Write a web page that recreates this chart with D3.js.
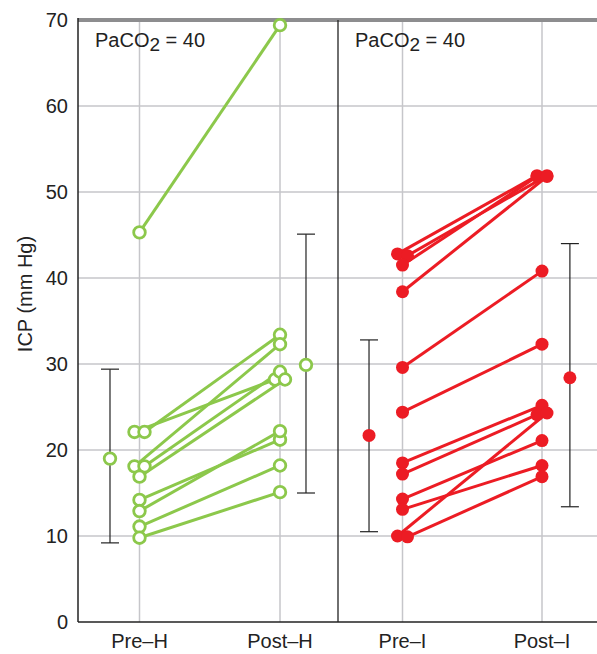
<!DOCTYPE html>
<html><head><meta charset="utf-8">
<script src="https://cdn.jsdelivr.net/npm/d3@7"></script>
<style>html,body{margin:0;padding:0;background:#fff}svg{display:block}text{font-family:"Liberation Sans",Arial,Helvetica,sans-serif}</style>
</head><body>
<svg id="c" width="597" height="654"></svg>
<script>
// ---- data ----
const categories = ["Pre–H", "Post–H", "Pre–I", "Post–I"];
const panelLabels = ["PaCO", "PaCO"];
const yTicks = [0, 10, 20, 30, 40, 50, 60, 70];
const hypoPre  = [45.3, 22.1, 22.1, 18.1, 18.1, 16.9, 14.2, 12.9, 11.1, 9.8];
const hypoPost = [69.4, 28.2, 33.4, 32.3, 29.1, 28.2, 21.2, 22.2, 18.2, 15.1];
const irriPre  = [42.8, 42.6, 41.5, 38.4, 29.6, 24.4, 18.5, 17.2, 14.3, 13.1, 10.0, 9.9];
const irriPost = [51.9, 51.9, 51.8, 51.8, 40.8, 32.3, 25.2, 24.1, 21.1, 18.2, 24.3, 16.9];
const meanPre   = [19.0, 21.7];
const lowPre    = [9.2, 10.5];
const highPre   = [29.4, 32.8];
const meanPost  = [29.9, 28.4];
const lowPost   = [15.0, 13.4];
const highPost  = [45.1, 44.0];

// ---- layout ----
const svg = d3.select("#c");
const L = 78, R = 597, T = 20, B = 622, DIV = 338;
const FS = 20;
const y = d3.scaleLinear().domain([0, 70]).range([B, T]);
const panels = [
  {x: d3.scaleLinear().domain([0, 1]).range([139.5, 280]), pre: hypoPre, post: hypoPost, color: "#8cc84b", filled: false, cats: categories.slice(0, 2), label: 95, mPre: -0.21, mPost: 1.185},
  {x: d3.scaleLinear().domain([0, 1]).range([402.5, 542]), pre: irriPre, post: irriPost, color: "#ec1c24", filled: true, cats: categories.slice(2, 4), label: 355, mPre: -0.24, mPost: 1.2}
];
const gridC = "#c6c6ca";

// jitter near-duplicate values
function jitter(vals) {
  const idx = vals.map((v, i) => i).sort((a, b) => vals[b] - vals[a]);
  const off = new Array(vals.length).fill(0);
  let cluster = [idx[0]];
  const flush = () => { if (cluster.length > 1) cluster.slice().sort((a,b)=>a-b).forEach((k, j) => off[k] = j % 2 === 0 ? -5 : 5); };
  for (let j = 1; j < idx.length; j++) {
    if (Math.abs(vals[idx[j]] - vals[cluster[cluster.length - 1]]) < 0.5) cluster.push(idx[j]);
    else { flush(); cluster = [idx[j]]; }
  }
  flush();
  return off;
}

// horizontal gridlines
svg.append("g").selectAll("line").data(yTicks.filter(t => t > 0 && t < 70)).join("line")
  .attr("x1", L).attr("x2", R).attr("y1", d => y(d)).attr("y2", d => y(d))
  .attr("stroke", gridC).attr("stroke-width", 1.5);
// vertical gridlines
panels.forEach(p => {
  svg.append("g").selectAll("line").data([0, 1]).join("line")
    .attr("x1", d => p.x(d)).attr("x2", d => p.x(d)).attr("y1", T).attr("y2", B)
    .attr("stroke", gridC).attr("stroke-width", 1.5);
});
// top gray bar
svg.append("line").attr("x1", L).attr("x2", R).attr("y1", y(70)).attr("y2", y(70))
  .attr("stroke", "#8d8d8f").attr("stroke-width", 4);
// axes
svg.append("line").attr("x1", L).attr("x2", L).attr("y1", T - 2).attr("y2", B).attr("stroke", "#222").attr("stroke-width", 1.5);
svg.append("line").attr("x1", L).attr("x2", R).attr("y1", B).attr("y2", B).attr("stroke", "#222").attr("stroke-width", 1.5);
svg.append("line").attr("x1", DIV).attr("x2", DIV).attr("y1", T).attr("y2", B).attr("stroke", "#222").attr("stroke-width", 1.3);

// y tick labels
svg.append("g").selectAll("text").data(yTicks).join("text")
  .attr("x", 68).attr("y", d => y(d)).attr("dy", "0.36em").attr("text-anchor", "end")
  .attr("font-size", FS).attr("fill", "#222").text(d => d);
svg.append("text").attr("transform", `translate(32,294) rotate(-90)`)
  .attr("text-anchor", "middle").attr("font-size", FS).attr("fill", "#222").text("ICP (mm Hg)");

panels.forEach((p, pi) => {
  const jPre = jitter(p.pre), jPost = jitter(p.post);
  const g = svg.append("g");
  // error bars
  [[p.mPre, meanPre[pi], lowPre[pi], highPre[pi]], [p.mPost, meanPost[pi], lowPost[pi], highPost[pi]]].forEach(([pos, m, lo, hi]) => {
    const cx = p.x(pos);
    g.append("line").attr("x1", cx).attr("x2", cx).attr("y1", y(lo)).attr("y2", y(hi)).attr("stroke", "#222").attr("stroke-width", 1.2);
    [lo, hi].forEach(v => g.append("line").attr("x1", cx - 9).attr("x2", cx + 9).attr("y1", y(v)).attr("y2", y(v)).attr("stroke", "#222").attr("stroke-width", 1.2));
  });
  // connecting lines
  g.selectAll("line.pair").data(p.pre.map((v, i) => i)).join("line").attr("class", "pair")
    .attr("x1", i => p.x(0) + jPre[i]).attr("y1", i => y(p.pre[i]))
    .attr("x2", i => p.x(1) + jPost[i]).attr("y2", i => y(p.post[i]))
    .attr("stroke", p.color).attr("stroke-width", 3);
  // points
  const pts = [];
  p.pre.forEach((v, i) => pts.push([p.x(0) + jPre[i], v]));
  p.post.forEach((v, i) => pts.push([p.x(1) + jPost[i], v]));
  pts.push([p.x(p.mPre), meanPre[pi]]);
  pts.push([p.x(p.mPost), meanPost[pi]]);
  g.selectAll("circle").data(pts).join("circle")
    .attr("cx", d => d[0]).attr("cy", d => y(d[1]))
    .attr("r", p.filled ? 6.5 : 5.8)
    .attr("fill", p.filled ? p.color : "#fff")
    .attr("stroke", p.color).attr("stroke-width", p.filled ? 0 : 2.8);
  // category labels
  svg.append("g").selectAll("text").data(p.cats).join("text")
    .attr("x", (d, i) => p.x(i)).attr("y", 648).attr("text-anchor", "middle")
    .attr("font-size", FS).attr("fill", "#222").text(d => d);
  // panel label
  const t = svg.append("text").attr("x", p.label).attr("y", 47).attr("font-size", FS).attr("fill", "#222");
  t.append("tspan").text(panelLabels[pi]);
  t.append("tspan").attr("font-size", 19).attr("dy", 4).text("2");
  t.append("tspan").attr("dy", -4).text(" = 40");
});
</script>
</body></html>
